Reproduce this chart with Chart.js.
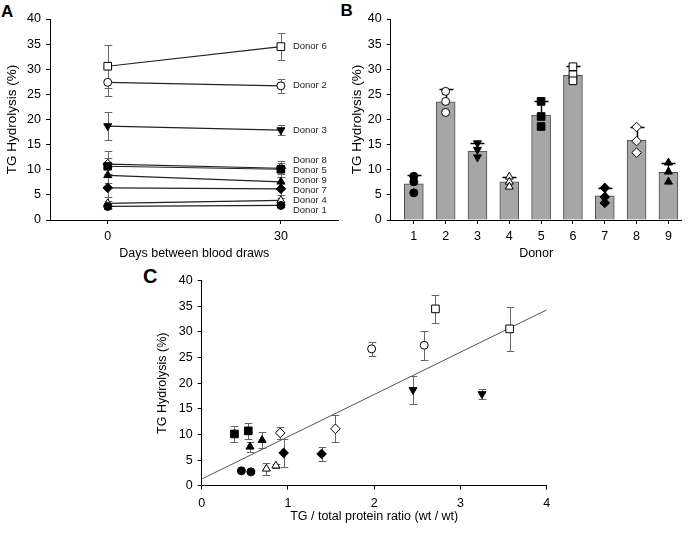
<!DOCTYPE html>
<html>
<head>
<meta charset="utf-8">
<script src="https://cdn.jsdelivr.net/npm/chart.js@4.4.1/dist/chart.umd.min.js"></script>
<style>
  body { margin: 0; background: #fff; width: 688px; height: 533px; position: relative; overflow: hidden;
         font-family: "Liberation Sans", Arial, sans-serif; }
  canvas { position: absolute; }
  .tag { position: absolute; font-weight: bold; color: #000; }
</style>
</head>
<body>
<div class="tag" style="left:1px;top:2.6px;font-size:17px;line-height:17px">A</div>
<div class="tag" style="left:340.5px;top:1.6px;font-size:17px;line-height:17px">B</div>
<div class="tag" style="left:143px;top:266px;font-size:20px;line-height:20px">C</div>
<canvas id="chartA" width="345" height="265" style="left:0;top:0"></canvas>
<canvas id="chartB" width="343" height="265" style="left:345px;top:0"></canvas>
<canvas id="chartC" width="420" height="271" style="left:140px;top:262px"></canvas>
<script>
// ---- data ----
const donors = [1, 2, 3, 4, 5, 6, 7, 8, 9];
const donorNames = ['Donor 1', 'Donor 2', 'Donor 3', 'Donor 4', 'Donor 5', 'Donor 6', 'Donor 7', 'Donor 8', 'Donor 9'];
const days = [0, 30];
const yTicks = [0, 5, 10, 15, 20, 25, 30, 35, 40];
const ratioTicks = [0, 1, 2, 3, 4];

// TG hydrolysis (%) per donor, first and second blood draw
const hydDay0 = [2.7, 27.4, 18.7, 3.3, 10.7, 30.6, 6.4, 11.1, 8.9];
const hydDay30 = [2.9, 26.7, 17.9, 3.9, 10.1, 34.5, 6.2, 10.3, 7.6];
const errDay0 = [0.3, 2.8, 2.8, 1.2, 1.6, 4.3, 2.7, 2.6, 1.6];
const errDay30 = [0.3, 1.4, 1.0, 0.4, 1.6, 2.75, 1.3, 1.1, 1.0];

// TG / total protein ratio (wt/wt) for the same draws
const ratioDay0 = [0.57, 2.58, 2.45, 0.75, 0.54, 3.57, 0.95, 1.55, 0.70];
const ratioDay30 = [0.46, 1.97, 3.25, 0.86, 0.38, 2.71, 1.39, 0.91, 0.56];

// Panel B: mean, upper error and the three replicates per donor
const barMeans = [7.2, 23.5, 13.7, 7.6, 20.9, 28.8, 4.8, 15.9, 9.5];
const barErr = [1.7, 2.5, 1.7, 1.0, 2.8, 1.8, 1.6, 2.6, 1.8];
const rep1 = [8.7, 25.6, 15.3, 8.6, 23.6, 30.5, 6.4, 18.5, 11.4];
const rep2 = [7.6, 23.6, 14.0, 7.6, 20.6, 28.9, 4.6, 15.7, 9.6];
const rep3 = [5.4, 21.4, 12.5, 6.6, 18.6, 27.7, 3.4, 13.4, 7.6];

// Panel C: linear fit end points
const fitX = [0, 4];
const fitY = [1.3, 34.3];

// ---- styling ----
const FONT = '"Liberation Sans", Arial, sans-serif';
Chart.defaults.font.family = FONT;
Chart.defaults.color = '#000';

// one marker per donor
const markers = [
    { style: 'circle', filled: true, rot: 0 },
    { style: 'circle', filled: false, rot: 0 },
    { style: 'triangle', filled: true, rot: 180 },
    { style: 'triangle', filled: false, rot: 0 },
    { style: 'rect', filled: true, rot: 0 },
    { style: 'rect', filled: false, rot: 0 },
    { style: 'rectRot', filled: true, rot: 0 },
    { style: 'rectRot', filled: false, rot: 0 },
    { style: 'triangle', filled: true, rot: 0 }
];
const markerSize = { circle: 4, rect: 5.4, triangle: 4.6, rectRot: 4.8 };

function markerOpts(i) {
    const m = markers[i];
    return {
        pointStyle: m.style,
        pointRotation: m.rot,
        pointRadius: markerSize[m.style],
        pointHoverRadius: markerSize[m.style],
        pointBackgroundColor: m.filled ? '#000' : '#fff',
        pointBorderColor: '#000',
        pointBorderWidth: 1
    };
}

// Draw error bars stored on the dataset (errPlus / errMinus)
function drawErrors(chart, index) {
    const ds = chart.data.datasets[index];
    if (!ds.errPlus) return;
    const xs = chart.scales.x, ys = chart.scales.y;
    const ctx = chart.ctx;
    const cap = ds.errCap || 4;
    ctx.save();
    ctx.strokeStyle = ds.errColor || '#555';
    ctx.lineWidth = ds.errWidth || 1;
    ds.data.forEach((pt, i) => {
        const x = Math.round(xs.getPixelForValue(pt.x)) + 0.5;
        const yTop = Math.round(ys.getPixelForValue(pt.y + ds.errPlus[i])) + 0.5;
        const yBot = ds.errMinus ? Math.round(ys.getPixelForValue(pt.y - ds.errMinus[i])) + 0.5
                                 : ys.getPixelForValue(pt.y);
        ctx.beginPath();
        ctx.moveTo(x, yTop);
        ctx.lineTo(x, yBot);
        ctx.moveTo(x - cap, yTop);
        ctx.lineTo(x + cap, yTop);
        if (ds.errMinus) {
            ctx.moveTo(x - cap, yBot);
            ctx.lineTo(x + cap, yBot);
        }
        ctx.stroke();
    });
    ctx.restore();
}

const errorBarPlugin = {
    id: 'errorBars',
    beforeDatasetsDraw(chart) {
        chart.data.datasets.forEach((ds, i) => { if (!ds.errAfterSelf) drawErrors(chart, i); });
    },
    afterDatasetDraw(chart, args) {
        if (chart.data.datasets[args.index].errAfterSelf) drawErrors(chart, args.index);
    }
};

// Donor names at the right end of panel A, pushed apart when they would overlap
const donorLabelPlugin = {
    id: 'donorLabels',
    afterDatasetsDraw(chart) {
        const xs = chart.scales.x, ys = chart.scales.y;
        const gap = 10;
        const items = donorNames.map((name, i) => ({ name, y: ys.getPixelForValue(hydDay30[i]) }));
        items.sort((a, b) => a.y - b.y);
        let groups = items.map(it => ({ members: [it], center: it.y }));
        let merged = true;
        while (merged) {
            merged = false;
            for (let g = 0; g < groups.length - 1; g++) {
                const a = groups[g], b = groups[g + 1];
                const aBottom = a.center + (a.members.length - 1) * gap / 2;
                const bTop = b.center - (b.members.length - 1) * gap / 2;
                if (bTop - aBottom < gap) {
                    const members = a.members.concat(b.members);
                    const center = members.reduce((s, m) => s + m.y, 0) / members.length;
                    groups.splice(g, 2, { members, center });
                    merged = true;
                    break;
                }
            }
        }
        const ctx = chart.ctx;
        ctx.save();
        ctx.font = '9.5px ' + FONT;
        ctx.fillStyle = '#222';
        ctx.textBaseline = 'middle';
        ctx.textAlign = 'left';
        const x = xs.getPixelForValue(days[1]) + 12;
        groups.forEach(g => g.members.forEach((m, k) => {
            ctx.fillText(m.name, x, g.center + (k - (g.members.length - 1) / 2) * gap);
        }));
        ctx.restore();
    }
};

function axis(opts) {
    const base = {
        type: 'linear',
        border: { display: true, color: '#000', width: 1 },
        grid: { drawOnChartArea: false, drawTicks: true, tickLength: 4, color: '#000' },
        ticks: { color: '#000', font: { size: 12.5 }, padding: 5 },
        title: { display: true, color: '#000', font: { size: 12.5 }, padding: { top: 4, bottom: 4 } }
    };
    return Object.assign(base, opts);
}

const common = {
    responsive: false,
    animation: false,
    plugins: { legend: { display: false }, tooltip: { enabled: false } }
};

// ---- Panel A ----
const datasetsA = donors.map((d, i) => Object.assign({
    label: donorNames[i],
    data: [{ x: days[0], y: hydDay0[i] }, { x: days[1], y: hydDay30[i] }],
    errPlus: [errDay0[i], errDay30[i]],
    errMinus: [errDay0[i], errDay30[i]],
    errColor: '#666',
    errCap: 3.8,
    borderColor: '#222',
    borderWidth: 1.2,
    showLine: true
}, markerOpts(i)));

new Chart(document.getElementById('chartA'), {
    type: 'scatter',
    data: { datasets: datasetsA },
    options: Object.assign({}, common, {
        layout: { padding: { top: 19, right: 6, left: 0, bottom: 0 } },
        scales: {
            x: axis({
                min: -10, max: 40,
                afterBuildTicks: s => { s.ticks = days.map(v => ({ value: v })); },
                ticks: { color: '#000', font: { size: 12.5 }, padding: 5 },
                title: { display: true, text: 'Days between blood draws', color: '#000', font: { size: 12.5 }, padding: { top: 0, bottom: 4 } },
                afterFit: s => { s.height = 45; }
            }),
            y: axis({
                min: 0, max: 40,
                afterBuildTicks: s => { s.ticks = yTicks.map(v => ({ value: v })); },
                title: { display: true, text: 'TG Hydrolysis (%)', color: '#000', font: { size: 13.5 }, padding: { top: 4, bottom: 0 } },
                afterFit: s => { s.width = 50; }
            })
        }
    }),
    plugins: [errorBarPlugin, donorLabelPlugin]
});

// ---- Panel B ----
const repPoints = [];
donors.forEach((d, i) => [rep1, rep2, rep3].forEach(r => repPoints.push({ x: d, y: r[i] })));
const donorOf = ctx => Math.floor(ctx.dataIndex / 3);

new Chart(document.getElementById('chartB'), {
    type: 'bar',
    data: {
        datasets: [
            {
                type: 'scatter',
                data: repPoints,
                order: 1,
                pointStyle: ctx => markers[donorOf(ctx)].style,
                rotation: ctx => markers[donorOf(ctx)].rot,
                radius: ctx => markerSize[markers[donorOf(ctx)].style],
                backgroundColor: ctx => markers[donorOf(ctx)].filled ? '#000' : '#fff',
                borderColor: '#000',
                borderWidth: 1
            },
            {
                type: 'bar',
                data: donors.map((d, i) => ({ x: d, y: barMeans[i] })),
                order: 2,
                errPlus: barErr,
                errAfterSelf: true,
                errColor: '#000',
                errWidth: 1.4,
                errCap: 7,
                backgroundColor: '#a6a6a6',
                borderColor: '#4d4d4d',
                borderWidth: 1,
                barThickness: 19
            }
        ]
    },
    options: Object.assign({}, common, {
        layout: { padding: { top: 19, right: 4, left: 0, bottom: 0 } },
        scales: {
            x: axis({
                min: 0.274, max: 9.414, offset: false,
                grid: { drawOnChartArea: false, drawTicks: true, tickLength: 4, color: '#000', offset: false },
                afterBuildTicks: s => { s.ticks = donors.map(v => ({ value: v })); },
                title: { display: true, text: 'Donor', color: '#000', font: { size: 12.5 }, padding: { top: 0, bottom: 4 } },
                afterFit: s => { s.height = 45; }
            }),
            y: axis({
                min: 0, max: 40,
                afterBuildTicks: s => { s.ticks = yTicks.map(v => ({ value: v })); },
                title: { display: true, text: 'TG Hydrolysis (%)', color: '#000', font: { size: 13.5 }, padding: { top: 4, bottom: 0 } },
                afterFit: s => { s.width = 45.7; }
            })
        }
    }),
    plugins: [errorBarPlugin]
});

// ---- Panel C ----
const datasetsC = donors.map((d, i) => Object.assign({
    label: donorNames[i],
    data: [{ x: ratioDay0[i], y: hydDay0[i] }, { x: ratioDay30[i], y: hydDay30[i] }],
    errPlus: [errDay0[i], errDay30[i]],
    errMinus: [errDay0[i], errDay30[i]],
    errColor: '#666',
    errCap: 3.8,
    order: 1
}, markerOpts(i)));
datasetsC.push({
    type: 'line',
    label: 'fit',
    data: fitX.map((x, i) => ({ x, y: fitY[i] })),
    borderColor: '#555',
    borderWidth: 1,
    pointRadius: 0,
    order: 5
});

new Chart(document.getElementById('chartC'), {
    type: 'scatter',
    data: { datasets: datasetsC },
    options: Object.assign({}, common, {
        layout: { padding: { top: 18.7, right: 13.3, left: 11, bottom: 5 } },
        scales: {
            x: axis({
                min: 0, max: 4,
                afterBuildTicks: s => { s.ticks = ratioTicks.map(v => ({ value: v })); },
                ticks: { color: '#000', font: { size: 12.5 }, padding: 6 },
                title: { display: true, text: 'TG / total protein ratio (wt / wt)', color: '#000', font: { size: 12.5 }, padding: { top: 0, bottom: 4 } },
                afterFit: s => { s.height = 42.3; }
            }),
            y: axis({
                min: 0, max: 40,
                afterBuildTicks: s => { s.ticks = yTicks.map(v => ({ value: v })); },
                title: { display: true, text: 'TG Hydrolysis (%)', color: '#000', font: { size: 12.5 }, padding: { top: 4, bottom: 0 } },
                afterFit: s => { s.width = 50.7; }
            })
        }
    }),
    plugins: [errorBarPlugin]
});
</script>
</body>
</html>
